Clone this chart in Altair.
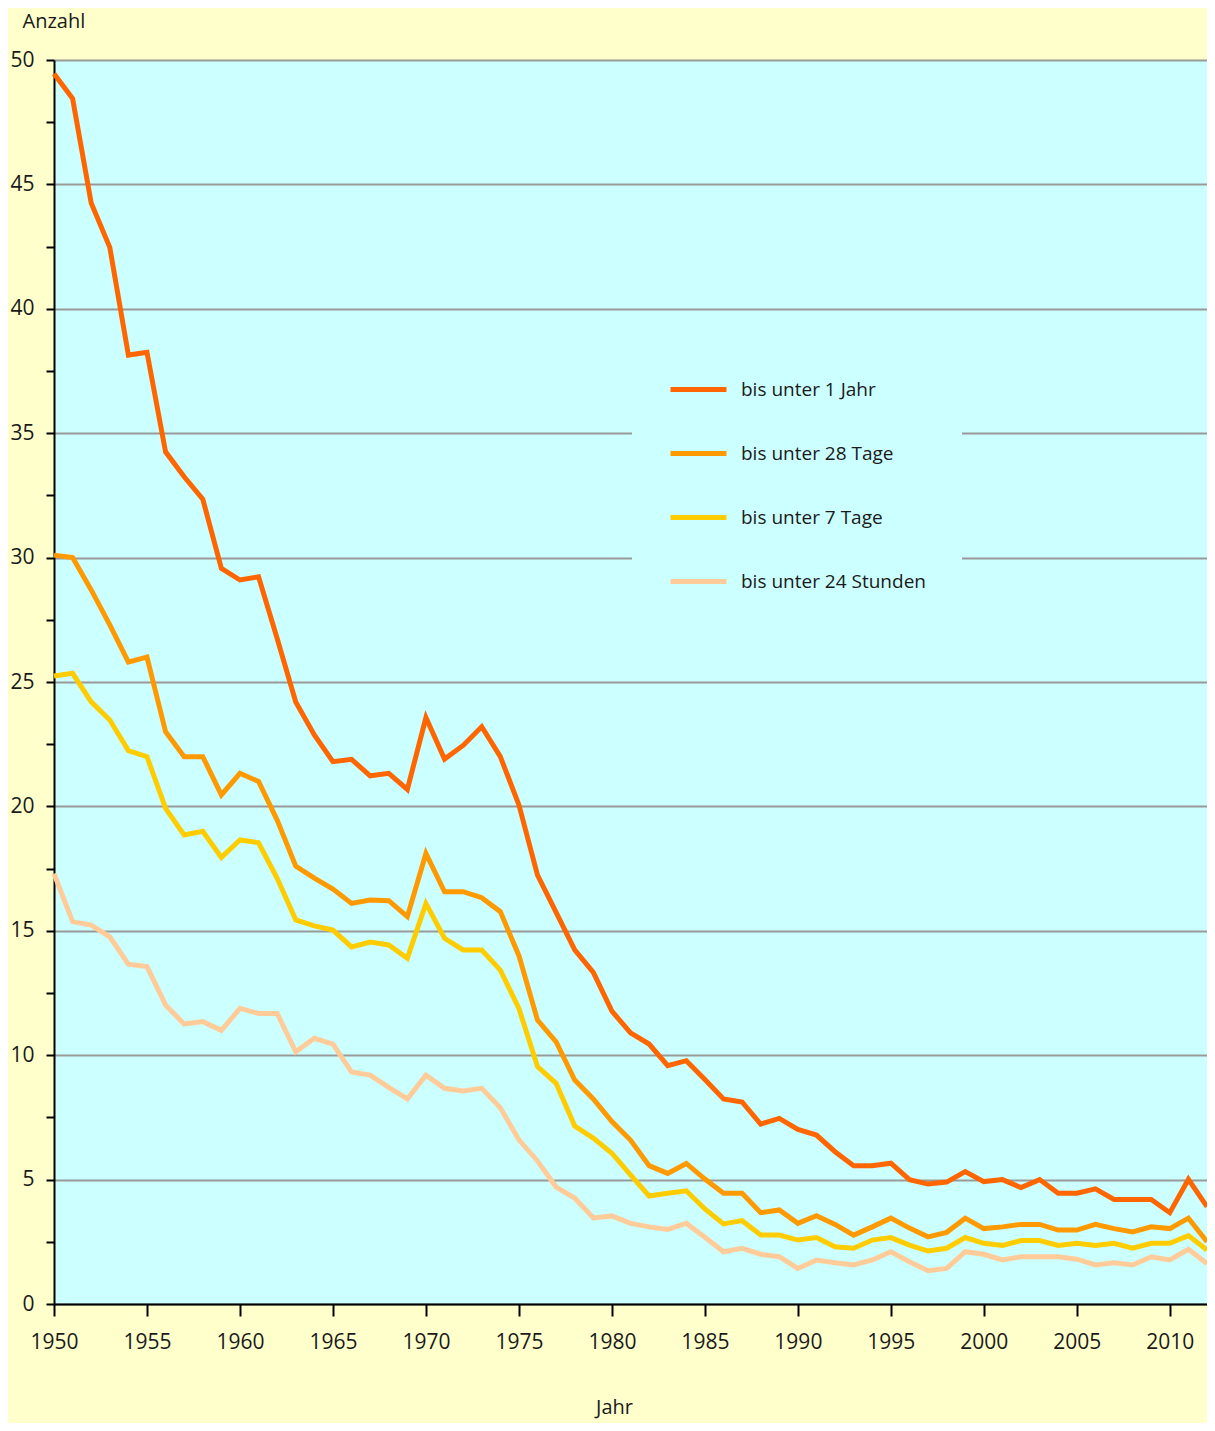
import altair as alt
import pandas as pd

years = list(range(1950, 2013))

series_names = ["bis unter 1 Jahr", "bis unter 28 Tage", "bis unter 7 Tage", "bis unter 24 Stunden"]
series_colors = ["#FF6600", "#FF9900", "#FFCC00", "#FFCC99"]

s_1jahr = [49.45, 48.45, 44.25, 42.47, 38.14, 38.25, 34.25, 33.25, 32.35, 29.57,
           29.1, 29.23, 26.75, 24.2, 22.87, 21.8, 21.89, 21.23, 21.33, 20.68,
           23.57, 21.9, 22.45, 23.2, 22.0, 20.06, 17.24, 15.74, 14.23, 13.33,
           11.77, 10.9, 10.45, 9.58, 9.78, 9.02, 8.24, 8.12, 7.23, 7.46,
           7.02, 6.79, 6.12, 5.56, 5.56, 5.66, 5.0, 4.82, 4.9, 5.32,
           4.92, 5.0, 4.68, 5.0, 4.45, 4.45, 4.63, 4.2, 4.2, 4.2,
           3.67, 5.01, 3.91]

s_28tage = [30.1, 30.0, 28.7, 27.3, 25.8, 26.0, 23.0, 22.0, 22.0, 20.46,
            21.33, 21.0, 19.45, 17.6, 17.12, 16.68, 16.1, 16.24, 16.21, 15.57,
            18.11, 16.57, 16.57, 16.33, 15.77, 14.0, 11.41, 10.54, 9.0, 8.24,
            7.33, 6.59, 5.56, 5.25, 5.65, 5.02, 4.45, 4.45, 3.67, 3.78,
            3.24, 3.55, 3.2, 2.77, 3.1, 3.45, 3.05, 2.7, 2.88, 3.45,
            3.03, 3.1, 3.2, 3.2, 2.97, 2.97, 3.2, 3.03, 2.9, 3.1,
            3.03, 3.45, 2.5]

s_7tage = [25.24, 25.35, 24.2, 23.47, 22.24, 22.0, 19.92, 18.85, 19.0, 17.95,
           18.65, 18.54, 17.11, 15.44, 15.2, 15.03, 14.35, 14.55, 14.43, 13.9,
           16.1, 14.7, 14.23, 14.23, 13.42, 11.88, 9.54, 8.87, 7.15, 6.67,
           6.06, 5.19, 4.34, 4.45, 4.55, 3.82, 3.22, 3.35, 2.77, 2.77,
           2.57, 2.67, 2.3, 2.24, 2.57, 2.67, 2.37, 2.13, 2.24, 2.67,
           2.44, 2.35, 2.55, 2.55, 2.35, 2.44, 2.35, 2.44, 2.24, 2.44,
           2.44, 2.75, 2.17]

s_24std = [17.3, 15.37, 15.23, 14.76, 13.66, 13.56, 12.02, 11.25, 11.35, 11.0,
           11.88, 11.68, 11.68, 10.14, 10.68, 10.45, 9.33, 9.2, 8.71, 8.24,
           9.2, 8.67, 8.56, 8.67, 7.89, 6.6, 5.75, 4.7, 4.26, 3.46,
           3.54, 3.24, 3.1, 3.0, 3.24, 2.68, 2.1, 2.24, 2.0, 1.9,
           1.43, 1.77, 1.66, 1.57, 1.77, 2.1, 1.7, 1.34, 1.43, 2.1,
           2.0, 1.77, 1.9, 1.9, 1.9, 1.8, 1.57, 1.66, 1.57, 1.9,
           1.77, 2.2, 1.63]

x_ticks = list(range(1950, 2011, 5))
y_ticks = [i * 2.5 for i in range(21)]

rows = []
for name, vals in zip(series_names, [s_1jahr, s_28tage, s_7tage, s_24std]):
    for yr, v in zip(years, vals):
        rows.append({"Jahr": yr, "Anzahl": v, "Serie": name})
df = pd.DataFrame(rows)

FONT = "Open Sans"
TXT = "#1a1a1a"

chart = alt.Chart(df).mark_line(strokeWidth=5).encode(
    x=alt.X("Jahr:Q",
            scale=alt.Scale(domain=[1950, 2012], nice=False, zero=False),
            axis=alt.Axis(values=x_ticks, format="d", grid=False,
                          tickSize=12, tickWidth=2, tickColor="black",
                          domainColor="black", domainWidth=2,
                          labelPadding=15, labelFontSize=21, labelColor=TXT,
                          labelFont=FONT, labelFlush=False,
                          title="Jahr", titleFont=FONT, titleFontSize=20,
                          titleFontWeight="normal", titleColor=TXT,
                          titleX=560, titleY=103, titleAlign="center",
                          titleBaseline="middle")),
    y=alt.Y("Anzahl:Q",
            scale=alt.Scale(domain=[0, 50], nice=False),
            axis=alt.Axis(values=y_ticks,
                          labelExpr="datum.value % 5 === 0 ? datum.label : ''",
                          grid=True, gridColor="#999999", gridWidth=2,
                          gridOpacity={"condition": {"test": "datum.value % 5 === 0", "value": 1}, "value": 0},
                          tickSize=8, tickWidth=2, tickColor="black",
                          domainColor="black", domainWidth=2,
                          labelPadding=12, labelFontSize=21, labelColor=TXT,
                          labelFont=FONT, labelFlush=False,
                          title="Anzahl", titleFont=FONT, titleFontSize=20,
                          titleFontWeight="normal", titleColor=TXT,
                          titleAngle=0, titleX=-32, titleY=-39,
                          titleAlign="left", titleBaseline="middle")),
    color=alt.Color("Serie:N",
                    scale=alt.Scale(domain=series_names, range=series_colors),
                    sort=series_names,
                    legend=alt.Legend(orient="none", legendX=578, legendY=263,
                                      title=None, fillColor="#CCFFFF",
                                      padding=36, symbolType="stroke",
                                      symbolSize=3136, symbolStrokeWidth=5,
                                      labelFontSize=19, labelFont=FONT,
                                      labelColor=TXT, labelOffset=12,
                                      rowPadding=23, labelLimit=400)),
).properties(
    width=1153, height=1244,
    autosize=alt.AutoSizeParams(type="none"),
    padding={"left": 46, "top": 52, "right": 0, "bottom": 119},
    background="#FFFFCC",
).configure_view(
    fill="#CCFFFF", stroke=None
)

chart.save("out.html", embed_options={"renderer": "svg", "actions": False})
